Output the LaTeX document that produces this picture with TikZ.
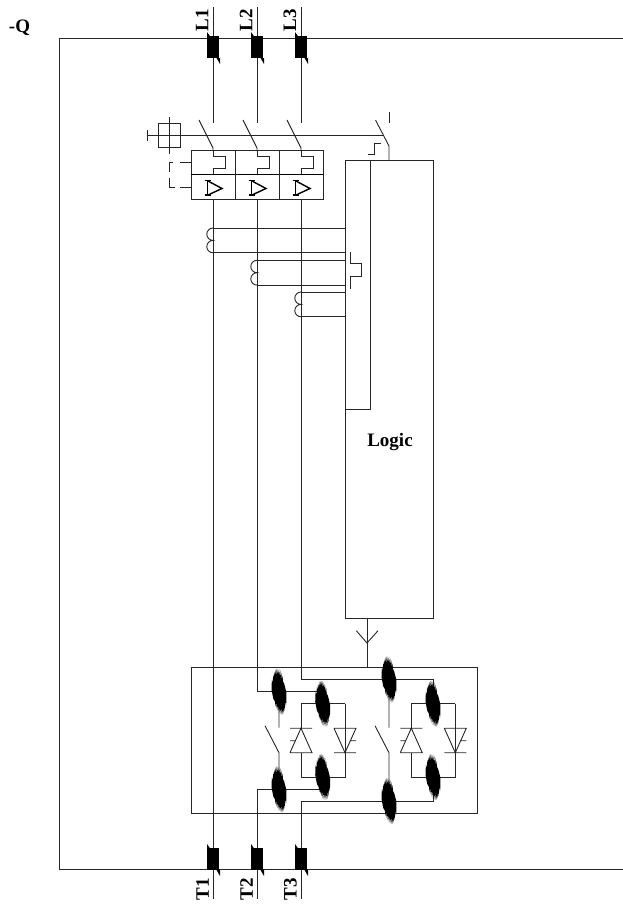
\documentclass[tikz,border=0pt]{standalone}
\usepackage{fontspec}
\setmainfont{Liberation Serif}
\tikzset{
  wire/.style={line width=0.9pt,draw=black!85,line cap=butt,line join=miter},
  lbl/.style={font=\fontsize{19}{19}\selectfont\bfseries,inner sep=0pt},
  pics/blob/.style={code={
    \fill[black,xscale=1.15] (-6.5,-2) -- (-6.2,-12) -- (-5.5,-9) -- (-5,-17) -- (-4.5,-13) -- (-4,-20) -- (-3.5,-15) -- (-3,-22) -- (-2.5,-16) -- (-2,-23) -- (-1.5,-16) -- (-1,-23) -- (-0.5,-16) -- (0,-22.5) -- (0.5,-15) -- (1,-21.5) -- (1.5,-14) -- (2,-19) -- (2.5,-12) -- (3,-16) -- (3.5,-10) -- (4.5,-8) -- (6.5,1)
      -- (6.5,6) -- (6.2,14) -- (5.5,10) -- (5,19) -- (4.5,14) -- (4,22) -- (3.5,16) -- (3,23) -- (2.5,16) -- (2,23) -- (1.5,16) -- (1,22.5) -- (0.5,15) -- (0,21.5) -- (-0.5,14) -- (-1,19.5) -- (-1.5,13) -- (-2,17) -- (-2.5,11) -- (-3,15) -- (-3.5,10) -- (-5,7) -- cycle;
  }},
  pics/termtop/.style={code={
    \fill (-6,-2) rectangle (6,20);
    \fill (-6,-1) -- (-6,-6) -- (-2.5,-1) -- cycle;
    \fill (3.5,20) -- (7,20) -- (7,26) -- cycle;
  }},
  pics/trip/.style={code={
    \draw[wire] (0,0) -- (0,6) -- (12,6) -- (12,18) -- (0,18) -- (0,24.5);
    \draw[line width=1.5pt] (-8.5,30) -- (-2.5,30) (-5.5,30) -- (-5.5,44.5) (-8.5,44.5) -- (-2.5,44.5);
    \draw[line width=1.4pt] (-5,30.5) -- (9,38) -- (-5,44.5);
  }},
  pics/coil/.style={code={
    \draw[wire] (0,0) arc[start angle=-90,end angle=-270,radius=6.2] arc[start angle=-90,end angle=-270,radius=6.2];
  }},
  pics/bridge/.style={code={
    % origin: top left of bridge
    \draw[wire] (0,0) -- (44,0) (0,0) -- (0,24.5) (44,0) -- (44,49) (0,49) -- (0,73.5) -- (44,73.5) -- (44,49);
    \draw[wire] (-11,24.5) -- (11,24.5) (-11,49) -- (11,49) -- (0,24.5) -- (-11,49) (-11,37) -- (-6,37);
    \draw[wire] (33,24.5) -- (55,24.5) -- (44,49) -- (33,24.5) (33,49) -- (55,49) (50,37) -- (55,37);
  }},
}
\begin{document}
\begin{tikzpicture}[x=1pt,y=-1pt]
\useasboundingbox (0,0) rectangle (623,908);
% outer frame
\coordinate (ftr) at (623,38);
\coordinate (fbr) at (623,869);
\draw[wire] (ftr) -- (59,38) -- (59,869) -- (fbr);
% labels
\node[lbl] (q) at (19.5,27.5) {-Q};
\node[lbl,rotate=90] (l1) at (202,20) {L1};
\node[lbl,rotate=90] (l2) at (246,20) {L2};
\node[lbl,rotate=90] (l3) at (290,20) {L3};
\node[lbl,rotate=90] (t1) at (202.5,889) {T1};
\node[lbl,rotate=90] (t2) at (246.5,889) {T2};
\node[lbl,rotate=90] (t3) at (290.5,889) {T3};
% input lines
\foreach \x in {213,257,301} {
  \draw[wire] (\x,7) -- (\x,123);
  \draw[wire] (\x-14,120) -- (\x,148) -- (\x,151);
  \pic at (\x,38) {termtop};
  \pic at (\x,150.5) {trip};
}
% mechanical linkage
\draw[wire] (147,130) -- (147,141) (147,135.5) -- (383,135.5);
\draw[wire] (158,123) rectangle (180,147.5);
\draw[wire] (169,117) -- (169,154);
% trip unit box
\draw[wire] (191,150.5) rectangle (323,199);
\draw[line width=1.2pt] (191,174.5) -- (323,174.5);
\draw[wire] (235,150.5) -- (235,199) (279,150.5) -- (279,199);
\draw[wire] (191,162) -- (180,162) (173,162) -- (169,162) -- (169,172);
\draw[wire] (191,187) -- (180,187) (175,187) -- (169,187) -- (169,178);
% aux switch
\draw[wire] (375.5,120) -- (389,146) -- (389,160);
\draw[wire] (389,112) -- (389,123);
\draw[wire] (368,154.5) -- (374,154.5) -- (374,143) -- (381,143);
% logic
\node[draw=black!85,line width=0.9pt,minimum width=88pt,minimum height=458pt,inner sep=0pt] (logic) at (389,389) {};
\node[font=\fontsize{19}{19}\selectfont\bfseries,inner sep=0pt] (logictxt) at (390,442) {Logic};
\draw[wire] (370.5,160) -- (370.5,409) -- (345,409);
% coils
\draw[wire] (213,228) -- (345,228) (213,252.7) -- (345,252.7);
\pic at (213,228) {coil};
\draw[wire] (257,260.3) -- (345,260.3) (257,285) -- (345,285);
\pic at (257,260.3) {coil};
\draw[wire] (301,292) -- (345,292) (301,316) -- (345,316);
\pic at (301,292) {coil};
% residual step
\draw[wire] (350.3,252) -- (350.3,263.3) -- (361.7,263.3) -- (361.7,276.5) -- (350.3,276.5) -- (350.3,289);
% connector
\draw[wire] (367,618) -- (367,667);
\draw[wire] (356.3,630.7) -- (367,643) -- (378,630.7);
% power box
\node[draw=black!85,line width=0.9pt,minimum width=286pt,minimum height=146pt,inner sep=0pt] (power) at (334,740) {};
% phase wires
\draw[wire] (213,199) -- (213,899);
\draw[wire] (257,199) -- (257,691.6) -- (322.7,691.6) -- (322.7,703.7);
\draw[wire] (301,199) -- (301,679.3) -- (433,679.3) -- (433,703.7);
\draw[wire] (279,691.6) -- (279,727.7) (265,725.7) -- (279,752.7) -- (279,789.3);
\draw[wire] (389,679.3) -- (389,727.7) (375,725.7) -- (389,752.7) -- (389,801);
\draw[wire] (257,899) -- (257,789.3) -- (322.7,789.3) -- (322.7,777);
\draw[wire] (301,899) -- (301,801) -- (433,801) -- (433,777);
\pic at (301,703.7) {bridge};
\pic at (411.3,703.7) {bridge};
% blobs
\foreach \x/\y in {279/691.6,322.7/703.7,389/679.3,433/703.7,322.7/777,433/777,279/789.3,389/801}
  \pic at (\x,\y) {blob};
% output terminals
\foreach \x in {213,257,301} {
  \pic at (\x,850) {termtop};
}
\end{tikzpicture}
\end{document}
